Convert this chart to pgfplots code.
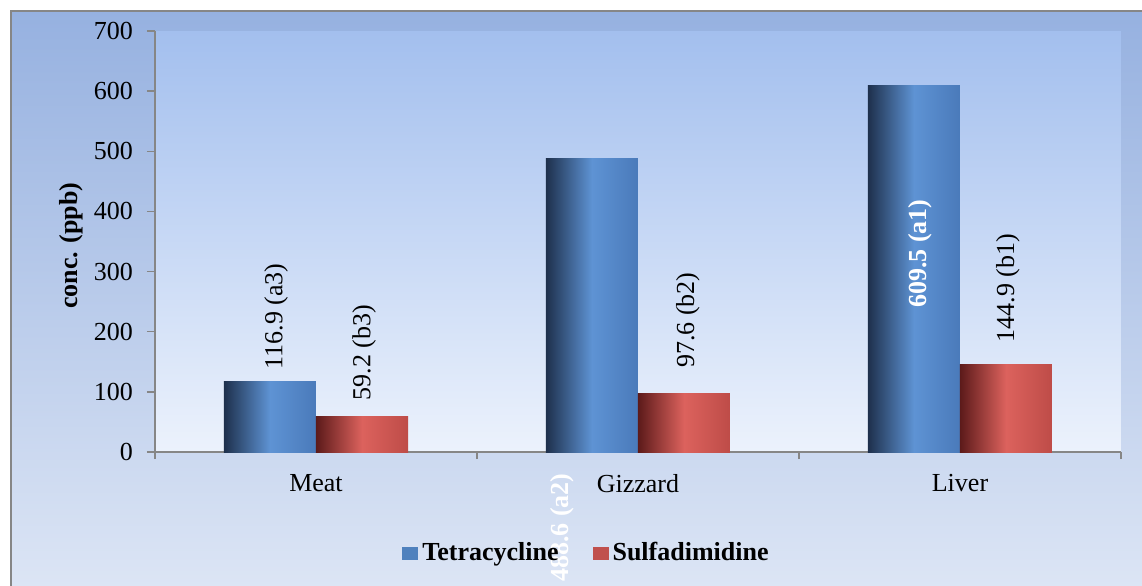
\documentclass[border=0pt]{standalone}
\usepackage{fontspec}
\setmainfont{Liberation Serif}
\usepackage{pgfplots}
\pgfplotsset{compat=1.18}
\definecolor{outertop}{RGB}{150,177,224}
\definecolor{outerbot}{RGB}{224,232,246}
\definecolor{plottop}{RGB}{163,191,238}
\definecolor{plotbot}{RGB}{236,242,252}
\definecolor{axgray}{RGB}{134,134,134}
\definecolor{bluedark}{RGB}{30,48,76}
\definecolor{bluemid}{RGB}{94,147,212}
\definecolor{blueright}{RGB}{74,122,186}
\definecolor{reddark}{RGB}{92,26,26}
\definecolor{redmid}{RGB}{220,98,93}
\definecolor{redright}{RGB}{190,76,72}
\definecolor{legblue}{RGB}{79,129,189}
\definecolor{legred}{RGB}{192,80,77}
\newcommand{\chartfont}{\fontsize{13}{15}\selectfont}
\pgfplotsset{
  bluebar/.style={ybar, bar width=46pt, bar shift=-23pt, draw=none,
    left color=bluedark, right color=blueright, middle color=bluemid, forget plot},
  redbar/.style={ybar, bar width=46pt, bar shift=23pt, draw=none,
    left color=reddark, right color=redright, middle color=redmid, forget plot},
  labelled/.style 2 args={point meta=explicit symbolic, nodes near coords,
    every node near coord/.append style={xshift=#1, rotate=90, anchor=west, text=black,
      font=\chartfont, inner ysep=0pt, inner xsep=#2}},
}
\begin{document}
\begin{tikzpicture}
\useasboundingbox (0,0) rectangle (571pt,-292.5pt);
\clip (0,0) rectangle (571pt,-292.5pt);
\shade[top color=outertop, bottom color=outerbot] (5.5pt,-5.5pt) rectangle (590pt,-310pt);
\draw[axgray, line width=0.75pt] (5.5pt,-310pt) -- (5.5pt,-5.5pt) -- (590pt,-5.5pt);
\begin{axis}[
  at={(77.5pt,-226pt)}, anchor=south west,
  scale only axis, width=483pt, height=210.5pt,
  xmin=-0.5, xmax=2.5, ymin=0, ymax=700,
  clip=false,
  axis lines*=left,
  axis line style={axgray, line width=0.75pt, -},
  axis background/.style={top color=plottop, bottom color=plotbot},
  ytick={0,100,...,700},
  xtick={0,1,2}, xticklabels={Meat,Gizzard,Liver},
  minor xtick={-0.5,0.5,1.5,2.5},
  tick align=outside,
  major tick length=4pt, minor tick length=3.5pt,
  tick style={axgray, line width=0.75pt},
  major x tick style={draw=none},
  ticklabel style={font=\chartfont},
  yticklabel style={xshift=-3.5pt},
  xticklabel style={yshift=-3.5pt},
  /pgf/number format/assume math mode=true,
  ylabel={\textbf{conc. (ppb)}},
  ylabel style={font=\chartfont, at={(axis description cs:-0.087,0.49)}, anchor=center},
  legend style={at={(axis description cs:0.4477,-0.240)}, anchor=center, draw=none, fill=none,
    font=\bfseries\chartfont, /tikz/every even column/.append style={column sep=15pt}},
  legend columns=2,
  legend image code/.code={\fill[#1] (0pt,-3.5pt) rectangle (8pt,3pt);},
]
\addlegendimage{fill=legblue, draw=none}
\addlegendentry{Tetracycline}
\addlegendimage{fill=legred, draw=none}
\addlegendentry{Sulfadimidine}

% Tetracycline
\addplot[bluebar, labelled={-20pt}{6pt}] coordinates {(0,116.9) [116.9 (a3)]};
\addplot[bluebar] coordinates {(1,488.6)};
\addplot[bluebar] coordinates {(2,609.5)};
% Sulfadimidine
\addplot[redbar, labelled={24pt}{8pt}] coordinates {(0,59.2) [59.2 (b3)]};
\addplot[redbar, labelled={25pt}{12.5pt}] coordinates {(1,97.6) [97.6 (b2)]};
\addplot[redbar, labelled={24pt}{11pt}] coordinates {(2,144.9) [144.9 (b1)]};

\node[rotate=90, anchor=east, inner sep=0pt, text=white, font=\bfseries\chartfont] at (axis cs:0.764,-34.9) {488.6 (a2)};
\node[rotate=90, inner sep=0pt, text=white, font=\bfseries\chartfont] at (axis cs:1.876,330) {609.5 (a1)};
\end{axis}
\end{tikzpicture}
\end{document}
